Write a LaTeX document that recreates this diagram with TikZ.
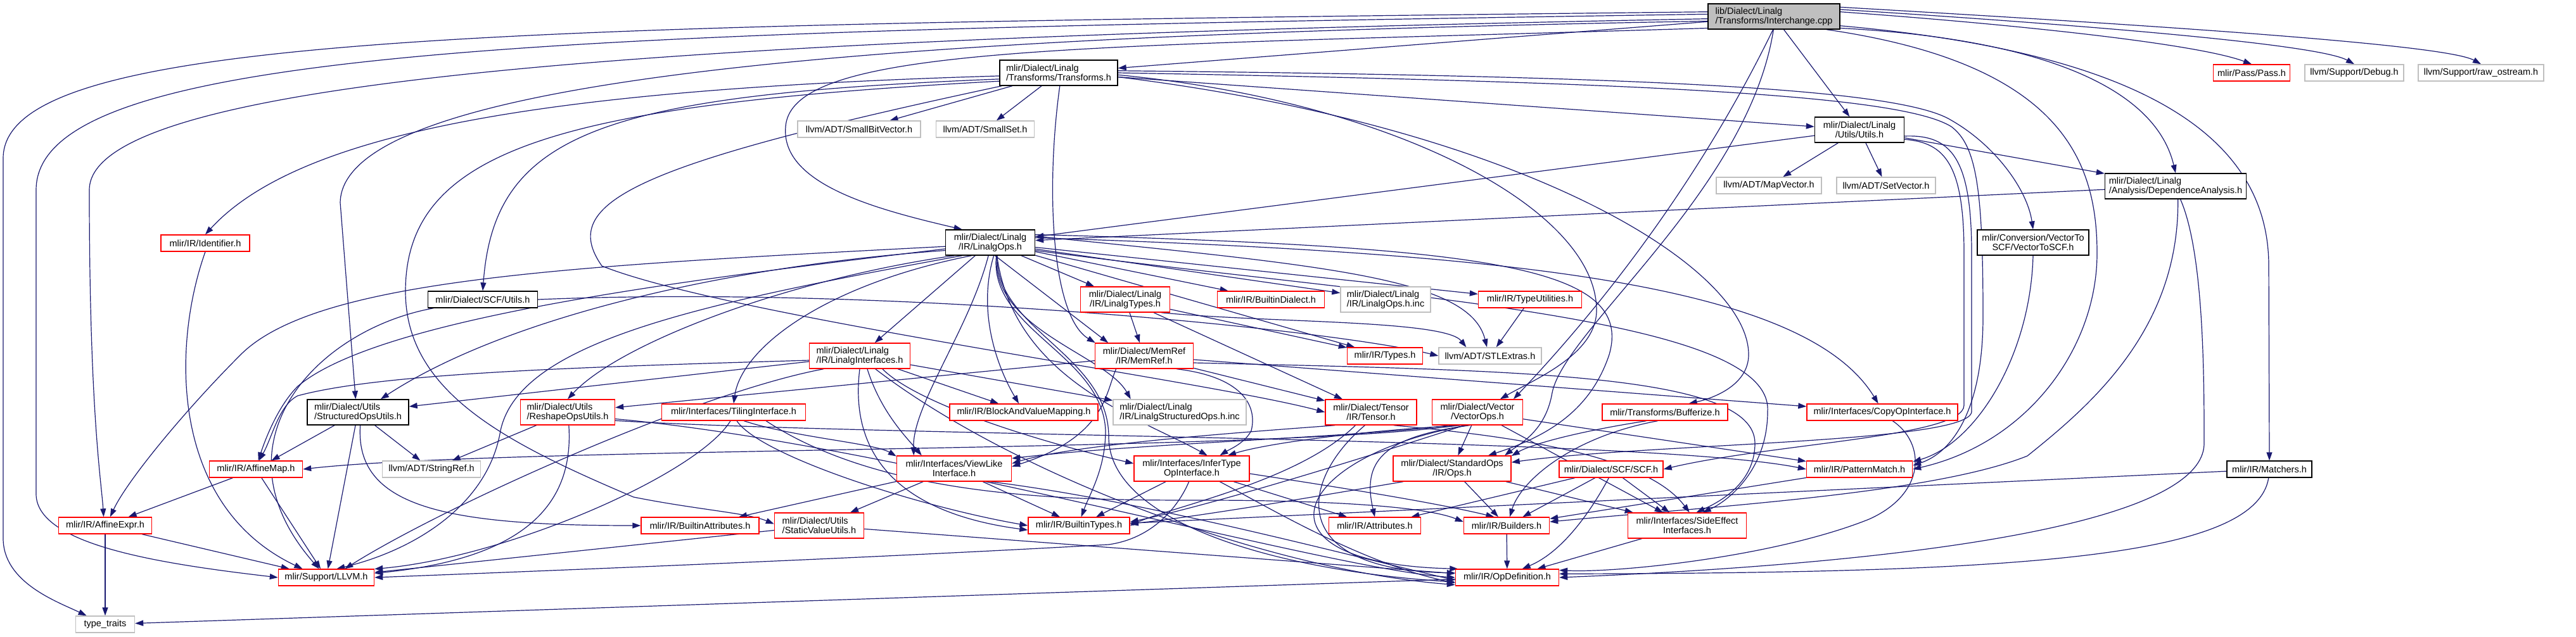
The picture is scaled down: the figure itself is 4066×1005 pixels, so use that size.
\documentclass[tikz,border=0pt]{standalone}
\usepackage{fontspec}
\setmainfont{Liberation Sans}
\usetikzlibrary{arrows.meta}
\definecolor{edgec}{HTML}{191970}
\definecolor{dred}{HTML}{FF0000}
\definecolor{dgrey}{HTML}{BFBFBF}
\newcommand{\dxfont}{\fontsize{14.5}{15.5}\selectfont}
\pgfdeclarelayer{edges}
\pgfsetlayers{edges,main}
\tikzset{
  nb/.style={draw, line width=1.4pt, fill=white, inner sep=1pt, font=\dxfont, text=black, minimum height=26pt},
  rn/.style={nb, draw=dred},
  kn/.style={nb, draw=black},
  gn/.style={nb, draw=dgrey},
  two/.style={minimum height=40pt},
  dep/.style={draw=edgec, line width=1.2pt, -{Triangle[length=13pt,width=9pt]}}
}
\begin{document}
\begin{tikzpicture}[x=1pt,y=-1pt]
\useasboundingbox (0,0) rectangle (4066,1005);
% nodes
\node[kn, fill=dgrey, minimum width=208pt, two, align=left] (ic) at (2800,26) {lib/Dialect/Linalg\\/Transforms/Interchange.cpp};
\node[kn, minimum width=186pt, two, align=left] (tr) at (1671,115) {mlir/Dialect/Linalg\\/Transforms/Transforms.h};
\node[gn, minimum width=194pt] (sbv) at (1356,204) {llvm/ADT/SmallBitVector.h};
\node[gn, minimum width=155pt] (ss) at (1555,204) {llvm/ADT/SmallSet.h};
\node[kn, minimum width=141pt, two, align=center] (ut) at (2935,205) {mlir/Dialect/Linalg\\/Utils/Utils.h};
\node[gn, minimum width=166pt] (mv) at (2792,293) {llvm/ADT/MapVector.h};
\node[gn, minimum width=156pt] (sv) at (2977,293) {llvm/ADT/SetVector.h};
\node[rn, minimum width=121pt] (pa) at (3554,115) {mlir/Pass/Pass.h};
\node[gn, minimum width=156pt] (db) at (3716,115) {llvm/Support/Debug.h};
\node[gn, minimum width=198pt] (ro) at (3916,115) {llvm/Support/raw\_ostream.h};
\node[kn, minimum width=223pt, two, align=left] (da) at (3434,294) {mlir/Dialect/Linalg\\/Analysis/DependenceAnalysis.h};
\node[kn, minimum width=176pt, two, align=center] (vs) at (3209,383) {mlir/Conversion/VectorTo\\SCF/VectorToSCF.h};
\node[rn, minimum width=140pt] (id) at (324,384) {mlir/IR/Identifier.h};
\node[kn, minimum width=141pt, two, align=center] (lo) at (1563,383) {mlir/Dialect/Linalg\\/IR/LinalgOps.h};
\node[rn, minimum width=141pt, two, align=center] (lt) at (1776,473) {mlir/Dialect/Linalg\\/IR/LinalgTypes.h};
\node[rn, minimum width=169pt] (bd) at (2006,473) {mlir/IR/BuiltinDialect.h};
\node[gn, minimum width=142pt, two, align=left] (loinc) at (2187,473) {mlir/Dialect/Linalg\\/IR/LinalgOps.h.inc};
\node[rn, minimum width=163pt] (tu) at (2415,473) {mlir/IR/TypeUtilities.h};
\node[kn, minimum width=173pt] (su) at (762,473) {mlir/Dialect/SCF/Utils.h};
\node[rn, minimum width=159pt, two, align=left] (li) at (1357,562) {mlir/Dialect/Linalg\\/IR/LinalgInterfaces.h};
\node[rn, minimum width=155pt, two, align=center] (mr) at (1806,562) {mlir/Dialect/MemRef\\/IR/MemRef.h};
\node[rn, minimum width=119pt] (ty) at (2186,562) {mlir/IR/Types.h};
\node[gn, minimum width=162pt] (stl) at (2352,562) {llvm/ADT/STLExtras.h};
\node[kn, minimum width=160pt, two, align=left] (sou) at (565,651) {mlir/Dialect/Utils\\/StructuredOpsUtils.h};
\node[rn, minimum width=149pt, two, align=left] (rs) at (896,651) {mlir/Dialect/Utils\\/ReshapeOpsUtils.h};
\node[rn, minimum width=227pt] (ti) at (1158,651) {mlir/Interfaces/TilingInterface.h};
\node[rn, minimum width=234pt] (bvm) at (1616,651) {mlir/IR/BlockAndValueMapping.h};
\node[gn, minimum width=210pt, two, align=left] (lsinc) at (1862,651) {mlir/Dialect/Linalg\\/IR/LinalgStructuredOps.h.inc};
\node[rn, minimum width=144pt, two, align=center] (te) at (2164,651) {mlir/Dialect/Tensor\\/IR/Tensor.h};
\node[rn, minimum width=143pt, two, align=center] (vo) at (2332,651) {mlir/Dialect/Vector\\/VectorOps.h};
\node[rn, minimum width=198pt] (bz) at (2628,651) {mlir/Transforms/Bufferize.h};
\node[rn, minimum width=238pt] (co) at (2971,651) {mlir/Interfaces/CopyOpInterface.h};
\node[rn, minimum width=147pt] (am) at (404,741) {mlir/IR/AffineMap.h};
\node[gn, minimum width=155pt] (sr) at (681,741) {llvm/ADT/StringRef.h};
\node[rn, minimum width=181pt, two, align=center] (vl) at (1506,740) {mlir/Interfaces/ViewLike\\Interface.h};
\node[rn, minimum width=182pt, two, align=center] (it) at (1881,740) {mlir/Interfaces/InferType\\OpInterface.h};
\node[rn, minimum width=186pt, two, align=center] (so) at (2292,740) {mlir/Dialect/StandardOps\\/IR/Ops.h};
\node[rn, minimum width=164pt] (scf) at (2543,741) {mlir/Dialect/SCF/SCF.h};
\node[rn, minimum width=167pt] (pm) at (2935,741) {mlir/IR/PatternMatch.h};
\node[kn, minimum width=134pt] (ma) at (3582,741) {mlir/IR/Matchers.h};
\node[rn, minimum width=147pt] (ae) at (166,830) {mlir/IR/AffineExpr.h};
\node[rn, minimum width=186pt] (ba) at (1105,830) {mlir/IR/BuiltinAttributes.h};
\node[rn, minimum width=141pt, two, align=left] (svu) at (1293,830) {mlir/Dialect/Utils\\/StaticValueUtils.h};
\node[rn, minimum width=160pt] (bt) at (1703,830) {mlir/IR/BuiltinTypes.h};
\node[rn, minimum width=145pt] (at) at (2170,830) {mlir/IR/Attributes.h};
\node[rn, minimum width=135pt] (bu) at (2378,830) {mlir/IR/Builders.h};
\node[rn, minimum width=187pt, two, align=center] (se) at (2663,830) {mlir/Interfaces/SideEffect\\Interfaces.h};
\node[rn, minimum width=151pt] (ll) at (515,912) {mlir/Support/LLVM.h};
\node[rn, minimum width=163pt] (od) at (2379,912) {mlir/IR/OpDefinition.h};
\node[gn, minimum width=93pt] (tt) at (166,986) {type\_traits};
% edges
\begin{pgfonlayer}{edges}
\fill[white] (0,0) rectangle (4066,1005);
% Interchange.cpp
\draw[dep] (ic) -- (tr);
\draw[dep] (ic.190) .. controls (1700,75) and (1250,70) .. (1240,200) .. controls (1232,290) and (1380,330) .. (lo.155);
\draw[dep] (ic) -- (ut);
\draw[dep] (ic.350) .. controls (3200,60) and (3400,130) .. (da.north);
\draw[dep] (ic.4) .. controls (3200,40) and (3470,70) .. (pa.north);
\draw[dep] (ic.6) .. controls (3300,40) and (3660,70) .. (db.north);
\draw[dep] (ic.8) .. controls (3400,40) and (3860,70) .. (ro.north);
\draw[dep] (ic.352) .. controls (3350,80) and (3581,200) .. (3581,420) -- (ma.north);
\draw[dep] (ic.346) .. controls (3250,100) and (3310,250) .. (3310,400) .. controls (3310,550) and (3200,700) .. (pm.0);
\draw[dep] (ic.266) .. controls (2700,250) and (2560,450) .. (vo.20);
\draw[dep] (ic.268) .. controls (2760,300) and (2470,520) .. (2450,620) .. controls (2440,680) and (2400,700) .. (so.14);
\draw[dep] (ic.184) .. controls (1500,55) and (540,110) .. (537,320) -- (sou.100);
\draw[dep] (ic.182) .. controls (1100,60) and (141,120) .. (141,300) .. controls (141,650) and (160,760) .. (ae.100);
\draw[dep] (ic.178) .. controls (900,50) and (57,70) .. (57,300) -- (57,780) .. controls (57,860) and (250,890) .. (ll.west);
\draw[dep] (ic.176) .. controls (800,40) and (5,50) .. (5,250) -- (5,850) .. controls (5,920) and (90,950) .. (tt.155);
% Transforms.h
\draw[dep] (tr) -- (sbv);
\draw[dep] (tr) -- (ss);
\draw[dep] (tr.183) .. controls (900,140) and (480,200) .. (id.north);
\draw[dep] (tr.186) .. controls (950,150) and (780,210) .. (su.north);
\draw[dep] (tr.188) .. controls (900,165) and (640,230) .. (640,460) .. controls (640,620) and (800,700) .. (1000,785) .. controls (1100,805) and (1180,810) .. (svu.178);
\draw[dep] (tr.275) .. controls (1650,300) and (1660,500) .. (mr.165);
\draw[dep] (tr) -- (ut);
\draw[dep] (tr.2) .. controls (2600,120) and (3000,140) .. (3080,190) .. controls (3150,230) and (3200,300) .. (vs.north);
\draw[dep] (tr.0) .. controls (2600,130) and (3000,150) .. (3080,200) .. controls (3120,230) and (3130,300) .. (3130,500) .. controls (3130,650) and (3080,715) .. (pm.4);
\draw[dep] (tr.358) .. controls (2200,160) and (2520,330) .. (2520,490) .. controls (2520,560) and (2420,600) .. (vo.30);
\draw[dep] (tr.356) .. controls (2400,200) and (2760,420) .. (2760,560) .. controls (2760,610) and (2700,630) .. (bz.20);
\draw[dep] (tr.193) .. controls (1000,260) and (880,320) .. (950,420) .. controls (1150,500) and (1900,600) .. (te.180);
% Utils.h
\draw[dep] (ut) -- (lo);
\draw[dep] (ut) -- (mv);
\draw[dep] (ut) -- (sv);
\draw[dep] (ut) -- (da);
\draw[dep] (ut.348) .. controls (3070,225) and (3100,260) .. (3100,400) -- (3100,640) .. controls (3100,690) and (2800,700) .. (scf.0);
\draw[dep] (ut.352) .. controls (3080,212) and (3112,250) .. (3112,400) -- (3112,650) .. controls (3110,700) and (2600,700) .. (so.6);
% DependenceAnalysis.h
\draw[dep] (da) -- (lo);
\draw[dep] (da.290) .. controls (3479,400) and (3479,600) .. (3479,700) .. controls (3479,830) and (3000,890) .. (od.0);
\draw[dep] (da.280) .. controls (3440,520) and (3300,640) .. (3200,720) .. controls (3050,780) and (2700,800) .. (bu.5);
% VectorToSCF, Matchers
\draw[dep] (vs.south) .. controls (3205,560) and (3120,700) .. (pm.8);
\draw[dep] (ma) -- (bt);
\draw[dep] (ma.265) .. controls (3560,880) and (3200,905) .. (od.4);
% LinalgOps.h
\draw[dep] (lo) -- (lt);
\draw[dep] (lo) -- (li);
\draw[dep] (lo.290) -- (mr.160);
\draw[dep] (lo.10) .. controls (2350,390) and (2580,420) .. (2540,560) .. controls (2510,650) and (2440,690) .. (so.20);
\draw[dep] (lo.200) .. controls (1250,440) and (980,540) .. (rs.north);
\draw[dep] (lo.190) .. controls (1150,420) and (800,500) .. (sou.30);
\draw[dep] (lo.185) .. controls (900,420) and (500,440) .. (380,560) .. controls (290,650) and (200,760) .. (ae.60);
\draw[dep] (lo.188) .. controls (1100,440) and (600,500) .. (470,610) .. controls (440,640) and (420,690) .. (am.75);
\draw[dep] (lo.285) .. controls (1540,500) and (1580,590) .. (bvm.120);
\draw[dep] (lo) -- (bd);
\draw[dep] (lo.295) .. controls (1560,520) and (1740,560) .. (1745,680) .. controls (1745,740) and (1720,780) .. (bt.75);
\draw[dep] (lo.298) .. controls (1570,520) and (1750,560) .. (1750,690) .. controls (1750,820) and (2000,900) .. (od.185);
\draw[dep] (lo) -- (tu);
\draw[dep] (lo) -- (ty);
\draw[dep] (lo.8) .. controls (2100,420) and (2320,440) .. (stl.110);
\draw[dep] (lo.6) .. controls (2400,400) and (2850,450) .. (co.115);
\draw[dep] (lo) -- (loinc);
\draw[dep] (lo.296) .. controls (1565,520) and (1745,560) .. (lsinc.165);
\draw[dep] (lo.215) .. controls (1300,450) and (1170,550) .. (ti.north);
\draw[dep] (lo.262) .. controls (1530,520) and (1440,640) .. (vl.162);
\draw[dep] (lo.297) .. controls (1600,600) and (1800,660) .. (it.40);
\draw[dep] (lo.350) .. controls (2200,470) and (2800,500) .. (2790,650) .. controls (2790,740) and (2730,790) .. (se.40);
\draw[dep] (lo.205) .. controls (1100,480) and (820,540) .. (790,680) .. controls (770,800) and (650,870) .. (ll.40);
% LinalgTypes.h
\draw[dep] (lt) -- (mr);
\draw[dep] (lt) -- (ty);
\draw[dep] (lt.340) .. controls (2000,510) and (2280,505) .. (stl.160);
\draw[dep] (lt) -- (te);
% MemRef.h
\draw[dep] (mr) -- (rs);
\draw[dep] (mr) -- (te);
\draw[dep] (mr) -- (co);
\draw[dep] (mr.352) .. controls (2400,585) and (2770,590) .. (2770,700) .. controls (2770,760) and (2720,790) .. (se.55);
\draw[dep] (mr.338) .. controls (1960,595) and (1985,640) .. (1975,680) .. controls (1965,700) and (1940,710) .. (it.25);
\draw[dep] (mr.205) .. controls (1745,620) and (1745,690) .. (vl.2);
% LinalgInterfaces.h
\draw[dep] (li) -- (sou);
\draw[dep] (li.185) .. controls (900,580) and (600,590) .. (470,625) .. controls (440,640) and (430,690) .. (am.70);
\draw[dep] (li) -- (bvm);
\draw[dep] (li) -- (lsinc.170);
\draw[dep] (li.270) .. controls (1340,720) and (1420,810) .. (bt.185);
\draw[dep] (li.320) .. controls (1600,750) and (2000,900) .. (od.188);
\draw[dep] (li.330) .. controls (1450,640) and (1650,700) .. (it.175);
\draw[dep] (li.300) .. controls (1390,650) and (1430,690) .. (vl.158);
\draw[dep] (li.200) .. controls (1100,620) and (700,800) .. (ll.25);
% TilingInterface.h
\draw[dep] (ti.250) .. controls (1100,750) and (800,880) .. (ll.10);
\draw[dep] (ti.290) .. controls (1200,720) and (1450,800) .. (bt.180);
\draw[dep] (ti.320) .. controls (1250,690) and (1380,700) .. (vl.168);
\draw[dep] (ti.345) .. controls (1400,790) and (1700,790) .. (1900,790) .. controls (2100,790) and (2250,800) .. (bu.175);
% StructuredOpsUtils.h, ReshapeOpsUtils.h
\draw[dep] (sou) -- (am);
\draw[dep] (sou) -- (sr);
\draw[dep] (sou) -- (ll);
\draw[dep] (sou.280) .. controls (560,800) and (700,830) .. (ba.180);
\draw[dep] (rs) -- (sr);
\draw[dep] (rs.275) .. controls (905,780) and (850,880) .. (ll.5);
\draw[dep] (rs.352) .. controls (1400,700) and (2100,900) .. (od.180);
\draw[dep] (rs.350) .. controls (1400,690) and (2600,690) .. (pm.180);
% AffineMap, AffineExpr, Identifier, SCF/Utils, TypeUtilities
\draw[dep] (am) -- (ae);
\draw[dep] (am) -- (ll);
\draw[dep] (ae) -- (ll);
\draw[dep] (ae) -- (tt);
\draw[dep] (id.south) .. controls (270,550) and (270,800) .. (ll.160);
\draw[dep] (su.190) .. controls (500,520) and (330,700) .. (ll.130);
\draw[dep] (su.east) .. controls (1400,450) and (2100,520) .. (stl.180);
\draw[dep] (tu) -- (stl);
% Tensor.h
\draw[dep] (te.220) .. controls (2050,760) and (1850,800) .. (bt.0);
\draw[dep] (te.330) .. controls (2400,690) and (2600,720) .. (se.80);
\draw[dep] (te.245) .. controls (2050,760) and (2030,900) .. (od.175);
\draw[dep] (te.200) .. controls (2000,680) and (1700,700) .. (vl.5);
% VectorOps.h
\draw[dep] (vo) -- (so);
\draw[dep] (vo.215) .. controls (2000,715) and (800,705) .. (am.0);
\draw[dep] (vo.240) .. controls (2180,690) and (2150,730) .. (at.north);
\draw[dep] (vo.232) .. controls (2040,720) and (1960,890) .. (od.170);
\draw[dep] (vo) -- (pm);
\draw[dep] (vo) -- (se);
\draw[dep] (vo.205) .. controls (2150,690) and (1800,700) .. (vl.10);
\draw[dep] (vo.225) .. controls (2100,740) and (1900,800) .. (bt.4);
\draw[dep] (vo.220) .. controls (2150,680) and (2000,700) .. (it.20);
% Bufferize.h, CopyOpInterface.h
\draw[dep] (bz.230) .. controls (2480,690) and (2400,760) .. (bu.70);
\draw[dep] (bz.205) .. controls (2500,680) and (2420,700) .. (so.12);
\draw[dep] (co.320) .. controls (3040,700) and (3040,780) .. (2950,820) .. controls (2800,880) and (2550,905) .. (od.8);
% ViewLikeInterface.h
\draw[dep] (vl) -- (ba);
\draw[dep] (vl) -- (svu);
\draw[dep] (vl) -- (bt);
\draw[dep] (vl.340) .. controls (1800,790) and (2100,870) .. (od.183);
% InferTypeOpInterface.h
\draw[dep] (it) -- (bt);
\draw[dep] (it.258) .. controls (1860,800) and (1820,850) .. (1750,860) .. controls (1400,880) and (900,900) .. (ll.0);
\draw[dep] (it.335) .. controls (2000,800) and (2150,890) .. (od.186);
\draw[dep] (it.355) .. controls (2050,760) and (2250,790) .. (bu.145);
\draw[dep] (it) -- (at);
% StandardOps, SCF, PatternMatch
\draw[dep] (so) -- (bu);
\draw[dep] (so) -- (se);
\draw[dep] (so.195) .. controls (2100,780) and (1900,815) .. (bt.2);
\draw[dep] (scf) -- (at);
\draw[dep] (scf) -- (bu);
\draw[dep] (scf.255) .. controls (2515,800) and (2470,870) .. (od.30);
\draw[dep] (scf) -- (se);
\draw[dep] (pm) -- (bu);
% StaticValueUtils, SideEffect, Builders, OpDefinition
\draw[dep] (svu) -- (ll);
\draw[dep] (svu) -- (od);
\draw[dep] (se) -- (od);
\draw[dep] (bu) -- (od);
\draw[dep] (od) -- (tt);
\end{pgfonlayer}
\end{tikzpicture}
\end{document}
